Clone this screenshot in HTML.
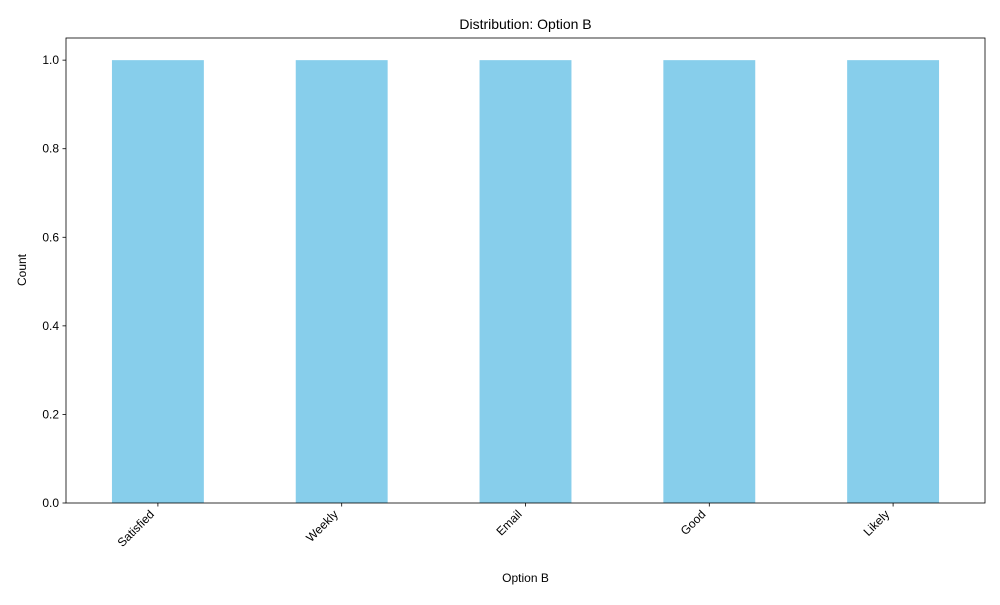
<!DOCTYPE html>
<html><head><meta charset="utf-8"><style>
body{margin:0;background:#fff;}
svg text{font-family:"Liberation Sans","DejaVu Sans",sans-serif;fill:#000;}
</style></head><body>
<svg width="1000" height="600" xmlns="http://www.w3.org/2000/svg">
<text x="525.5" y="29" font-size="14" text-anchor="middle">Distribution: Option B</text>
<g id="plot"></g>
<text x="525.5" y="582" font-size="12" text-anchor="middle">Option B</text>
<text x="26" y="270" font-size="12" text-anchor="middle" transform="rotate(-90 26 270)">Count</text>
</svg>
<script>
const categories = ["Satisfied","Weekly","Email","Good","Likely"];
const counts = [1,1,1,1,1];
const yTicks = [0.0,0.2,0.4,0.6,0.8,1.0];
const L=66,R=985,T=38,B=503;
const yMax=Math.max(...counts)*1.05;
const ys=v=>B-(v/yMax)*(B-T);
const xs=i=>L+(i+0.5)*(R-L)/categories.length;
const bw=0.5*(R-L)/categories.length;
const g=document.getElementById('plot');
const NS="http://www.w3.org/2000/svg";
function mk(t,a){const e=document.createElementNS(NS,t);for(const k in a)e.setAttribute(k,a[k]);g.appendChild(e);return e;}
counts.forEach((v,i)=>{
  const r=mk('rect',{x:xs(i)-bw/2,y:ys(v),width:bw,height:B-ys(v),fill:'#87ceeb'});
  
  
});
yTicks.forEach(t=>{
  const y=ys(t);
  const l=mk('line',{x1:L-3.5,x2:L,y1:y,y2:y,stroke:'#000','stroke-width':0.8});
  
  
  const tx=mk('text',{x:L-7,y:y+4,'font-size':12,'text-anchor':'end'});
  tx.textContent=t.toFixed(1);
  
  
});
categories.forEach((c,i)=>{
  const x=xs(i);
  const l=mk('line',{x1:x,x2:x,y1:B,y2:B+3.5,stroke:'#000','stroke-width':0.8});
  
  
  const ax=x-3, ay=B+12;
  const tx=mk('text',{x:ax,y:ay,'font-size':12,'text-anchor':'end',transform:`rotate(-45 ${ax} ${ay})`});
  tx.textContent=c;
  
  
});
const f=mk('rect',{x:L,y:T,width:R-L,height:B-T,fill:'none',stroke:'#000','stroke-width':0.8});


</script>
</body></html>
